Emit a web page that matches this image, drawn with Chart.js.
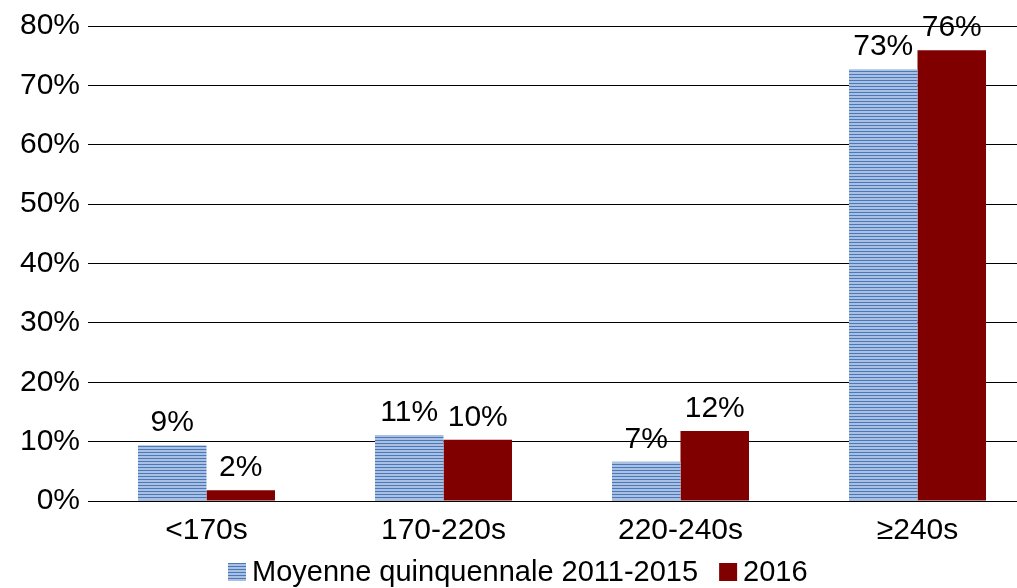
<!DOCTYPE html>
<html>
<head>
<meta charset="utf-8">
<script src="https://cdn.jsdelivr.net/npm/chart.js@4"></script>
<style>
  body { margin: 0; background: #fff; overflow: hidden; }
  /* plot runs past the right edge of the window, last bit of gridlines is cut off */
  #wrap { width: 1036px; height: 588px; }
</style>
</head>
<body>
<div id="wrap"><canvas id="myChart"></canvas></div>
<script>
const categories = ['<170s', '170-220s', '220-240s', '≥240s'];
const moyenne = [9.4, 11.1, 6.6, 72.7];
const an2016 = [1.8, 10.3, 11.8, 75.9];
const seriesNames = ['Moyenne quinquennale 2011-2015', '2016'];

const FONT = '"Liberation Sans", Arial, sans-serif';

// horizontal blue stripes for the 5-year average
const makeStripes = () => {
	const c = document.createElement('canvas');
	c.width = 4;
	c.height = 3;
	const g = c.getContext('2d');
	g.fillStyle = '#a9c0e2';
	g.fillRect(0, 0, 4, 3);
	g.fillStyle = '#4a78b8';
	g.fillRect(0, 2, 4, 1);
	return g.createPattern(c, 'repeat');
};
const stripes = makeStripes();

// percent label above each bar
const valueLabels = {
	id: 'valueLabels',
	afterDatasetsDraw(chart) {
		const ctx = chart.ctx;
		ctx.save();
		ctx.font = '30px ' + FONT;
		ctx.fillStyle = '#000';
		ctx.textAlign = 'center';
		ctx.textBaseline = 'alphabetic';
		chart.data.datasets.forEach((ds, i) => {
			chart.getDatasetMeta(i).data.forEach((bar, j) => {
				ctx.fillText(Math.round(ds.data[j]) + '%', bar.x, bar.y - 14);
			});
		});
		ctx.restore();
	}
};

// legend row under the axis: small square then the series name
const bottomLegend = {
	id: 'bottomLegend',
	afterDraw(chart) {
		const ctx = chart.ctx;
		const y = 572;
		const box = 18, gapText = 6, gapItem = 21;
		ctx.save();
		ctx.font = '29px ' + FONT;
		ctx.textBaseline = 'middle';
		const items = chart.data.datasets.map(ds => ({
			text: ds.label,
			color: ds.backgroundColor,
			w: box + gapText + ctx.measureText(ds.label).width
		}));
		let x = 228;
		items.forEach(it => {
			ctx.fillStyle = it.color;
			ctx.fillRect(x, y - box / 2, box, box);
			ctx.fillStyle = '#000';
			ctx.fillText(it.text, x + box + gapText, y + 1);
			x += it.w + gapItem;
		});
		ctx.restore();
	}
};

const ctx = document.getElementById('myChart');

new Chart(ctx, {
	type: 'bar',
	data: {
		labels: categories,
		datasets: [
			{ label: seriesNames[0], data: moyenne, backgroundColor: stripes },
			{ label: seriesNames[1], data: an2016, backgroundColor: '#800000' }
		]
	},
	options: {
		responsive: true,
		maintainAspectRatio: false,
		animation: false,
		layout: { padding: { top: 10, right: 0, left: 0, bottom: 37 } },
		datasets: { bar: { categoryPercentage: 0.578, barPercentage: 1.0 } },
		scales: {
			x: {
				grid: { display: false },
				border: { display: false },
				ticks: { color: '#000', font: { size: 30, family: FONT }, padding: 4 },
				afterFit: s => { s.height = 50; }
			},
			y: {
				min: 0,
				max: 80,
				ticks: {
					stepSize: 10,
					color: '#000',
					padding: 8,
					font: { size: 30, family: FONT },
					callback: v => v + '%'
				},
				grid: { color: '#000', lineWidth: 1, drawTicks: false },
				border: { display: false },
				afterFit: s => { s.width = 88; }
			}
		},
		plugins: {
			legend: { display: false },
			tooltip: { enabled: false }
		}
	},
	plugins: [valueLabels, bottomLegend]
});
</script>
</body>
</html>
